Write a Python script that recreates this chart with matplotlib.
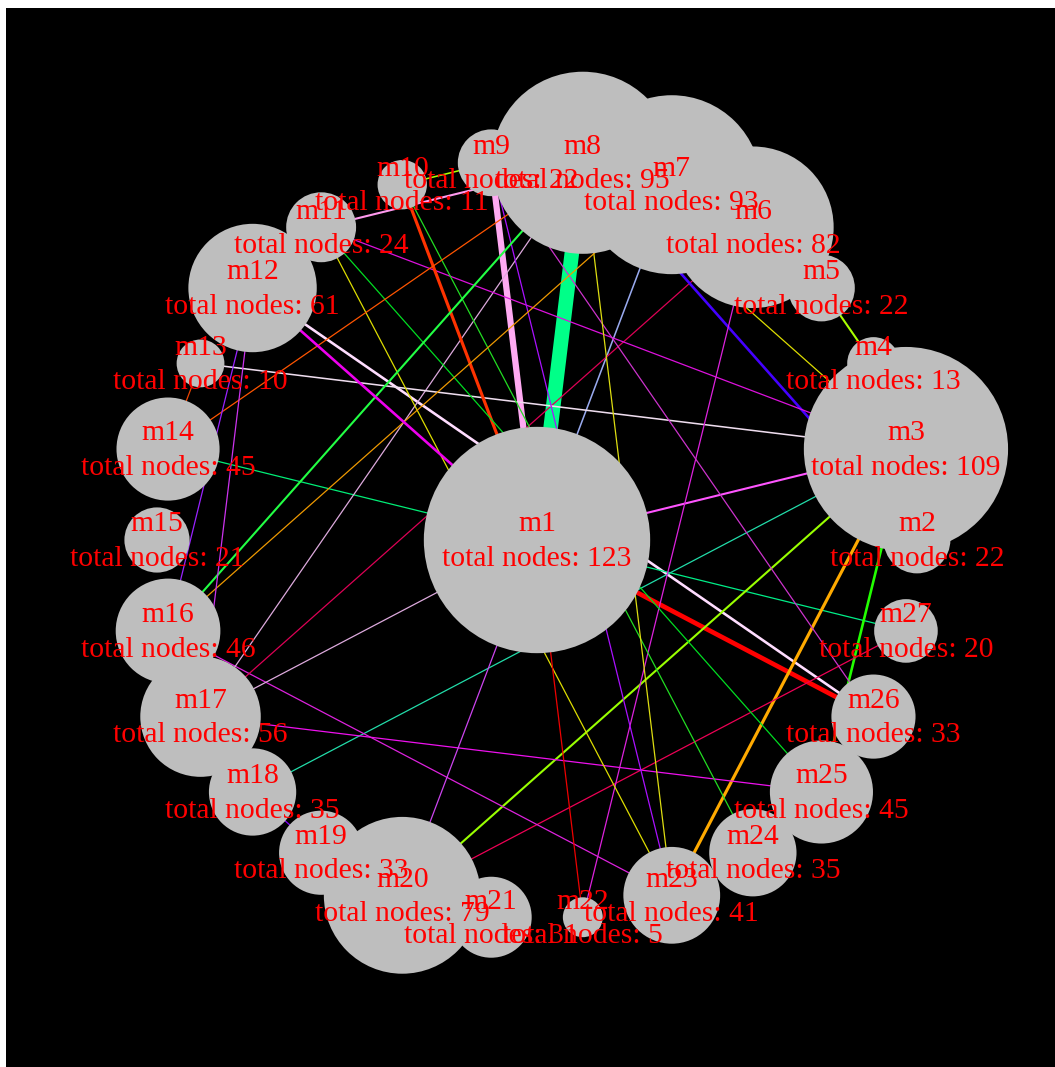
import numpy as np
import matplotlib
matplotlib.use("Agg")
import matplotlib.pyplot as plt
from matplotlib.patches import Circle

# node data
node_names = ["m%d" % i for i in range(1, 28)]
node_totals = [123, 22, 109, 13, 22, 82, 93, 95, 22, 11, 24, 61, 10, 45,
               21, 46, 56, 35, 33, 79, 31, 5, 41, 35, 45, 33, 20]

# edge data (source, target, weight)
edge_src = ["m1", "m1", "m1", "m1", "m12", "m1", "m1", "m1", "m3", "m3",
            "m3", "m3", "m27", "m17", "m16", "m17", "m17", "m1", "m8", "m8",
            "m4", "m11", "m13", "m6", "m9", "m9", "m10", "m10", "m11", "m11",
            "m8", "m16", "m16", "m14", "m12", "m12", "m12", "m11", "m1", "m1",
            "m10", "m13", "m18"]
edge_dst = ["m8", "m9", "m7", "m26", "m26", "m3", "m14", "m27", "m18", "m20",
            "m23", "m25", "m20", "m25", "m23", "m8", "m6", "m17", "m2", "m3",
            "m5", "m3", "m3", "m22", "m26", "m23", "m1", "m24", "m25", "m23",
            "m23", "m8", "m7", "m8", "m1", "m16", "m17", "m8", "m20", "m22",
            "m9", "m14", "m19"]
edge_weight = [14, 6, 1.5, 4.5, 2.5, 2, 1.2, 1.2, 1.2, 2,
               3, 2.5, 1.2, 1.2, 1.2, 1.2, 1.2, 1.2, 2.5, 1.2,
               2, 1.2, 1.5, 1.2, 1.2, 1.2, 3, 1.2, 1.2, 1.2,
               1.2, 2, 1.2, 1.2, 2.5, 1.2, 1.2, 2, 1.2, 1.2,
               1.5, 1.2, 1.2]
edge_colors = ["#00FF88", "#FFAAF2", "#99AAEE", "#FF0000", "#FFDDFF", "#FF55FF",
               "#00EE77", "#00EE88", "#22DDAA", "#99FF00", "#FFAA00", "#22FF00",
               "#EE0055", "#EE11EE", "#DD22DD", "#DDAADD", "#DD0055", "#DDAADD",
               "#4400FF", "#DDDD00", "#AAFF00", "#DD11DD", "#EEDDEE", "#DD22DD",
               "#CC33CC", "#AA11FF", "#FF3300", "#22DD22", "#00DD22", "#DDDD00",
               "#DDDD11", "#22FF44", "#EE9900", "#FF5500", "#EE00EE", "#9922FF",
               "#CC33EE", "#FF99EE", "#CC44EE", "#EE0000", "#AAFF00", "#EE4400",
               "#8800FF"]

# circular layout: m1 in the middle, the rest evenly on a ring
pos = {node_names[0]: (0.0, 0.0)}
ring = node_names[1:]
for i, name in enumerate(ring):
    a = 2 * np.pi * i / len(ring)
    pos[name] = (np.cos(a), np.sin(a))

px = 380.0  # pixels per layout unit

fig = plt.figure(figsize=(10.55, 10.67), dpi=100, facecolor="white")
ax = fig.add_axes([6 / 1055, 0, 1049 / 1055, 1059 / 1067])
ax.set_facecolor("black")
ax.set_xlim((6 - 537) / px, (1055 - 537) / px)
ax.set_ylim((540 - 1067) / px, (540 - 8) / px)
ax.set_aspect("equal")
ax.axis("off")
ax.add_patch(plt.Rectangle((-2, -2), 4, 4, color="black", zorder=0))

for s, d, w, c in zip(edge_src, edge_dst, edge_weight, edge_colors):
    x0, y0 = pos[s]
    x1, y1 = pos[d]
    ax.plot([x0, x1], [y0, y1], color=c, lw=w * 0.75, zorder=1,
            solid_capstyle="butt")

for name, n in zip(node_names, node_totals):
    r = (16 + 0.79 * n) / px
    ax.add_patch(Circle(pos[name], r, facecolor="#BEBEBE", edgecolor="none",
                        zorder=2))

for name, n in zip(node_names, node_totals):
    x, y = pos[name]
    ax.text(x, y - 1.5 / px, "%s\ntotal nodes: %d" % (name, n), color="red",
            fontsize=21.3, family="Liberation Serif", ha="center",
            va="center", multialignment="center", linespacing=1.42, zorder=3)

fig.savefig("out.png", dpi=100, facecolor="white")
